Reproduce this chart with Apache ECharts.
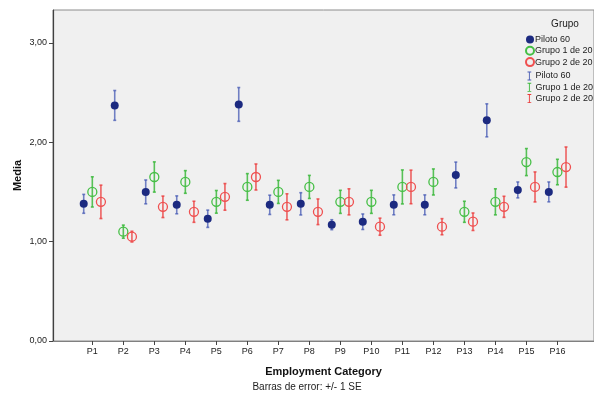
<!DOCTYPE html>
<html>
<head>
<meta charset="utf-8">
<script src="https://cdn.jsdelivr.net/npm/echarts@6/dist/echarts.min.js"></script>
<style>
  html, body { margin: 0; padding: 0; background: #fff; }
  #main { width: 594px; height: 400px; }
</style>
</head>
<body>
<div id="main"></div>
<script>
// categories and group means / standard errors
var categories = ['P1', 'P2', 'P3', 'P4', 'P5', 'P6', 'P7', 'P8', 'P9', 'P10', 'P11', 'P12', 'P13', 'P14', 'P15', 'P16'];
var pilotoMean = [1.38, 2.37, 1.50, 1.37, 1.23, 2.38, 1.37, 1.38, 1.17, 1.20, 1.37, 1.37, 1.67, 2.22, 1.52, 1.50];
var pilotoSE   = [0.095, 0.15, 0.12, 0.09, 0.087, 0.17, 0.097, 0.112, 0.05, 0.078, 0.10, 0.10, 0.13, 0.166, 0.08, 0.10];
var grupo1Mean = [1.50, 1.10, 1.65, 1.60, 1.40, 1.55, 1.50, 1.55, 1.40, 1.40, 1.55, 1.60, 1.30, 1.40, 1.80, 1.70];
var grupo1SE   = [0.152, 0.066, 0.152, 0.114, 0.114, 0.134, 0.116, 0.116, 0.116, 0.116, 0.171, 0.131, 0.106, 0.131, 0.136, 0.128];
var grupo2Mean = [1.40, 1.05, 1.35, 1.30, 1.45, 1.65, 1.35, 1.30, 1.40, 1.15, 1.55, 1.15, 1.20, 1.35, 1.55, 1.75];
var grupo2SE   = [0.168, 0.054, 0.108, 0.106, 0.134, 0.131, 0.131, 0.129, 0.131, 0.086, 0.169, 0.081, 0.088, 0.106, 0.151, 0.202];
var yTicks = [0, 1, 2, 3];

var FONT = '"Liberation Sans", Arial, sans-serif';

function pts(means) {
  return means.map(function (m, i) { return [i + 1, m]; });
}
function bars(means, se) {
  return means.map(function (m, i) { return [i + 1, m, se[i]]; });
}

function errorBar(offset, color) {
  return function (params, api) {
    var x = api.value(0), m = api.value(1), s = api.value(2);
    var hi = api.coord([x, m + s]);
    var lo = api.coord([x, m - s]);
    var px = hi[0] + offset;
    var st = { stroke: color, lineWidth: 1.6 };
    return {
      type: 'group',
      children: [
        { type: 'line', shape: { x1: px, y1: hi[1], x2: px, y2: lo[1] }, style: st },
        { type: 'line', shape: { x1: px - 1.5, y1: hi[1], x2: px + 1.5, y2: hi[1] }, style: st },
        { type: 'line', shape: { x1: px - 1.5, y1: lo[1], x2: px + 1.5, y2: lo[1] }, style: st }
      ]
    };
  };
}

var chart = echarts.init(document.getElementById('main'));
var ibeam = 'path://M0,0h5v1.2h-1.9v9.6h1.9v1.2h-5v-1.2h1.9v-9.6h-1.9z';

var option = {
  animation: false,
  textStyle: { fontFamily: FONT },
  grid: {
    left: 53, right: 0, top: 10, bottom: 59,
    show: true, backgroundColor: '#f0f0f0', borderColor: '#8c8c8c', borderWidth: 1
  },
  legend: [
    {
      orient: 'vertical', left: 525, top: 34, padding: 0, itemWidth: 8, itemHeight: 8, itemGap: 0.3,
      selectedMode: false,
      textStyle: { fontSize: 9, color: '#222', fontFamily: FONT, lineHeight: 11, padding: [0, 0, 0, -4] },
      data: ['Piloto 60', 'Grupo 1 de 20', 'Grupo 2 de 20']
    },
    {
      orient: 'vertical', left: 527.5, top: 70.5, padding: 0, itemWidth: 5, itemHeight: 9, itemGap: 0.3,
      selectedMode: false,
      formatter: function (n) { return n.replace('SE ', ''); },
      textStyle: { fontSize: 9, color: '#222', fontFamily: FONT, lineHeight: 11, padding: [0, 0, 0, -1.5] },
      data: [
        { name: 'SE Piloto 60', icon: ibeam },
        { name: 'SE Grupo 1 de 20', icon: ibeam },
        { name: 'SE Grupo 2 de 20', icon: ibeam }
      ]
    }
  ],
  graphic: [
    { type: 'text', x: 565, y: 24, style: { text: 'Grupo', align: 'center', verticalAlign: 'middle', font: '10px ' + FONT, fill: '#222' } },
    { type: 'text', x: 307, y: 387, style: { text: 'Barras de error: +/- 1 SE', align: 'center', verticalAlign: 'middle', font: '10px ' + FONT, fill: '#222' } }
  ],
  xAxis: {
    type: 'value', min: -0.268, max: 17.18,
    name: 'Employment Category', nameLocation: 'middle', nameGap: 25,
    nameTextStyle: { fontSize: 11, fontWeight: 'bold', color: '#111', fontFamily: FONT },
    splitLine: { show: false },
    axisLine: { onZero: false, lineStyle: { color: '#808080', width: 1.2 } },
    axisTick: { customValues: categories.map(function (c, i) { return i + 1; }), length: 4, lineStyle: { color: '#444' } },
    axisLabel: {
      customValues: categories.map(function (c, i) { return i + 1; }),
      formatter: function (v) { return categories[Math.round(v) - 1] || ''; },
      fontSize: 9, color: '#222', margin: 6, fontFamily: FONT
    }
  },
  yAxis: {
    type: 'value', min: 0, max: 3.33,
    name: 'Media', nameLocation: 'middle', nameGap: 30, nameMoveOverlap: false,
    nameTextStyle: { fontSize: 11, fontWeight: 'bold', color: '#111', fontFamily: FONT },
    splitLine: { show: false },
    axisLine: { show: true, onZero: false, lineStyle: { color: '#404040', width: 1.2 } },
    axisTick: { show: true, customValues: yTicks, length: 4, lineStyle: { color: '#444' } },
    axisLabel: {
      customValues: yTicks,
      formatter: function (v) { return v.toFixed(2).replace('.', ','); },
      fontSize: 9, color: '#222', margin: 6, fontFamily: FONT
    }
  },
  series: [
    {
      name: 'SE Piloto 60', type: 'custom', renderItem: errorBar(-8.6, 'rgba(70,90,180,0.75)'),
      itemStyle: { color: '#4a5db5' }, encode: { x: 0, y: 1 }, data: bars(pilotoMean, pilotoSE), z: 2
    },
    {
      name: 'SE Grupo 1 de 20', type: 'custom', renderItem: errorBar(0, 'rgba(60,185,60,0.85)'),
      itemStyle: { color: '#3cb83c' }, encode: { x: 0, y: 1 }, data: bars(grupo1Mean, grupo1SE), z: 2
    },
    {
      name: 'SE Grupo 2 de 20', type: 'custom', renderItem: errorBar(8.6, 'rgba(235,60,60,0.8)'),
      itemStyle: { color: '#ea3b3b' }, encode: { x: 0, y: 1 }, data: bars(grupo2Mean, grupo2SE), z: 2
    },
    {
      name: 'Piloto 60', type: 'scatter', symbol: 'circle', symbolSize: 8, symbolOffset: [-8.6, 0],
      itemStyle: { color: '#1c2a80', opacity: 1 }, data: pts(pilotoMean), z: 3
    },
    {
      name: 'Grupo 1 de 20', type: 'scatter', symbol: 'circle', symbolSize: 9, symbolOffset: [0, 0],
      itemStyle: { color: 'rgba(0,0,0,0)', borderColor: '#45bf45', borderWidth: 1.3, opacity: 1 },
      data: pts(grupo1Mean), z: 3
    },
    {
      name: 'Grupo 2 de 20', type: 'scatter', symbol: 'circle', symbolSize: 9, symbolOffset: [8.6, 0],
      itemStyle: { color: 'rgba(0,0,0,0)', borderColor: '#ef5050', borderWidth: 1.3, opacity: 1 },
      data: pts(grupo2Mean), z: 3
    }
  ]
};

chart.setOption(option);
</script>
</body>
</html>
